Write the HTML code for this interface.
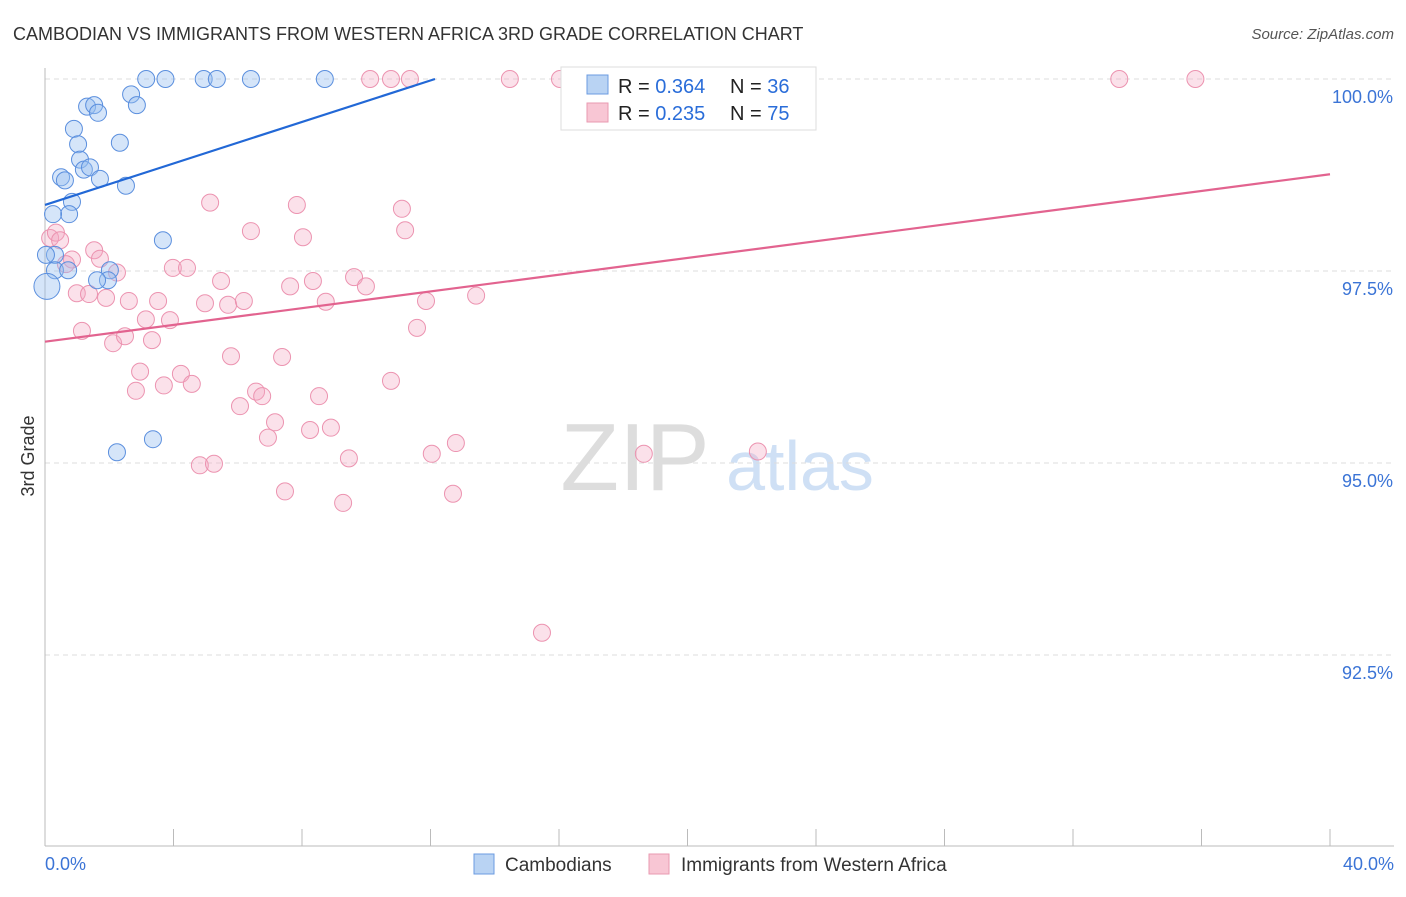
<!DOCTYPE html>
<html><head><meta charset="utf-8"><style>
body{margin:0;background:#fff;font-family:"Liberation Sans",sans-serif}
svg text{font-family:"Liberation Sans",sans-serif}
</style></head><body>
<svg id="c" width="1406" height="892">
<text x="13" y="40" font-size="18" fill="#333">CAMBODIAN VS IMMIGRANTS FROM WESTERN AFRICA 3RD GRADE CORRELATION CHART</text>
<text x="1394" y="39" font-size="15" fill="#555" text-anchor="end" font-style="italic">Source: ZipAtlas.com</text>
<text x="34" y="456" font-size="18" fill="#333" text-anchor="middle" transform="rotate(-90 34 456)">3rd Grade</text>
<g><text x="635" y="490" font-size="96" fill="#ddd" text-anchor="middle" font-family="Liberation Serif">ZIP</text><text x="800" y="490" font-size="70" fill="#cfe0f5" text-anchor="middle">atlas</text></g>
<g id="grid"></g><g id="axes"></g><g id="pts"></g><g id="trend"></g>
<g>
<rect x="561" y="67" width="255" height="63" fill="#fff" stroke="#ddd"/>
<rect x="587" y="75" width="21" height="19" fill="#b9d3f3" stroke="#6b9be0"/>
<rect x="587" y="103" width="21" height="19" fill="#f8c6d4" stroke="#e99ab1"/>
<text x="618" y="93" font-size="20" fill="#222">R = <tspan fill="#2a6dd9">0.364</tspan></text>
<text x="730" y="93" font-size="20" fill="#222">N = <tspan fill="#2a6dd9">36</tspan></text>
<text x="618" y="120" font-size="20" fill="#222">R = <tspan fill="#2a6dd9">0.235</tspan></text>
<text x="730" y="120" font-size="20" fill="#222">N = <tspan fill="#2a6dd9">75</tspan></text>
</g>
<g>
<rect x="474" y="854" width="20" height="20" fill="#b9d3f3" stroke="#6b9be0"/>
<text x="505" y="871" font-size="19" fill="#333">Cambodians</text>
<rect x="649" y="854" width="20" height="20" fill="#f8c6d4" stroke="#e99ab1"/>
<text x="681" y="871" font-size="19" fill="#333">Immigrants from Western Africa</text>
</g>
</svg>
<script>
const xTicks=[0,4,8,12,16,20,24,28,32,36,40];
const yTicks=[92.5,95,97.5,100];
const yTickLabels=["92.5%","95.0%","97.5%","100.0%"];
const blueX=[3.15,3.75,4.94,5.35,6.41,8.71,17.49,2.68,2.86,1.31,1.53,1.65,0.90,1.03,2.33,1.09,1.21,1.40,1.71,0.50,0.62,2.52,0.84,0.75,0.25,3.67,0.31,0.03,0.31,0.72,2.02,1.96,1.62,0.06,3.36,2.24];
const blueY=[100,100,100,100,100,100,100,99.80,99.66,99.64,99.66,99.56,99.35,99.15,99.17,98.95,98.82,98.85,98.70,98.72,98.68,98.61,98.40,98.24,98.24,97.90,97.71,97.71,97.51,97.51,97.51,97.38,97.38,97.30,95.31,95.14];
const pinkX=[10.12,10.77,11.36,14.47,16.03,16.65,33.44,35.81,5.14,7.84,11.11,6.41,8.03,11.21,0.16,0.34,0.47,1.53,0.84,1.71,0.65,2.24,3.98,4.42,5.48,0.99,1.37,1.90,2.61,3.52,4.98,5.70,6.19,7.63,8.34,9.62,9.99,8.74,11.86,13.42,3.14,3.89,1.15,11.58,2.12,2.49,3.33,5.79,7.38,2.96,2.83,3.70,4.23,4.57,10.77,6.57,6.76,8.53,6.07,7.16,6.94,8.25,8.90,4.82,5.26,9.46,12.04,12.79,18.64,22.19,7.47,12.70,9.28,15.47];
const pinkY=[100,100,100,100,100,100,100,100,98.39,98.36,98.31,98.02,97.94,98.03,97.93,98.00,97.90,97.77,97.65,97.66,97.59,97.48,97.54,97.54,97.37,97.21,97.20,97.15,97.11,97.11,97.08,97.06,97.11,97.30,97.37,97.42,97.30,97.10,97.11,97.18,96.87,96.86,96.72,96.76,96.56,96.65,96.60,96.39,96.38,96.19,95.94,96.01,96.16,96.03,96.07,95.93,95.87,95.87,95.74,95.53,95.33,95.43,95.46,94.97,94.99,95.06,95.12,95.26,95.12,95.15,94.63,94.60,94.48,92.79];
const blueTrend=[[0,98.36],[12.14,100]];
const pinkTrend=[[0,96.58],[40,98.76]];
const X0=45,X1=1330,Y100=79,PXY=76.8;
const sx=v=>X0+(X1-X0)*v/40, sy=v=>Y100+(100-v)*PXY;
const NS="http://www.w3.org/2000/svg";
function mk(p,t,a){const e=document.createElementNS(NS,t);for(const k in a)e.setAttribute(k,a[k]);p.appendChild(e);return e;}
const grid=document.getElementById('grid'),axes=document.getElementById('axes');
yTicks.forEach((v,i)=>{
 const l=mk(grid,'line',{x1:45,x2:1394,y1:sy(v),y2:sy(v),stroke:'#ddd','stroke-dasharray':'5,4'});
 
 
 const t=mk(axes,'text',{x:1393,y:sy(v)+24,'font-size':18,fill:'#3b74d6','text-anchor':'end'});t.textContent=yTickLabels[i];
 
 
});
const ax=mk(axes,'line',{x1:45,x2:45,y1:68,y2:846,stroke:'#bbb'});


const bx=mk(axes,'line',{x1:45,x2:1394,y1:846,y2:846,stroke:'#bbb'});


xTicks.forEach(v=>{const l=mk(axes,'line',{x1:sx(v),x2:sx(v),y1:829,y2:846,stroke:'#bbb'});
 
 });
const t0=mk(axes,'text',{x:45,y:870,'font-size':18,fill:'#3b74d6'});t0.textContent=xTicks[0].toFixed(1)+'%';


const t1=mk(axes,'text',{x:1394,y:870,'font-size':18,fill:'#3b74d6','text-anchor':'end'});t1.textContent=xTicks[xTicks.length-1].toFixed(1)+'%';


const pts=document.getElementById('pts');
pinkX.forEach((v,i)=>{const c=mk(pts,'circle',{cx:sx(v),cy:sy(pinkY[i]),r:8.5,fill:'rgba(244,170,195,0.35)',stroke:'#ec93b0','stroke-width':1});
 
 });
blueX.forEach((v,i)=>{const c=mk(pts,'circle',{cx:sx(v),cy:sy(blueY[i]),r:i==33?13:8.5,fill:'rgba(150,190,240,0.4)',stroke:'#5b8fde','stroke-width':1});
 
 });
const tr=document.getElementById('trend');
const b=mk(tr,'line',{x1:sx(blueTrend[0][0]),y1:sy(blueTrend[0][1]),x2:sx(blueTrend[1][0]),y2:sy(blueTrend[1][1]),stroke:'#2268d6','stroke-width':2.2});


const p=mk(tr,'line',{x1:sx(pinkTrend[0][0]),y1:sy(pinkTrend[0][1]),x2:sx(pinkTrend[1][0]),y2:sy(pinkTrend[1][1]),stroke:'#e2638f','stroke-width':2.2});


</script>
</body></html>
